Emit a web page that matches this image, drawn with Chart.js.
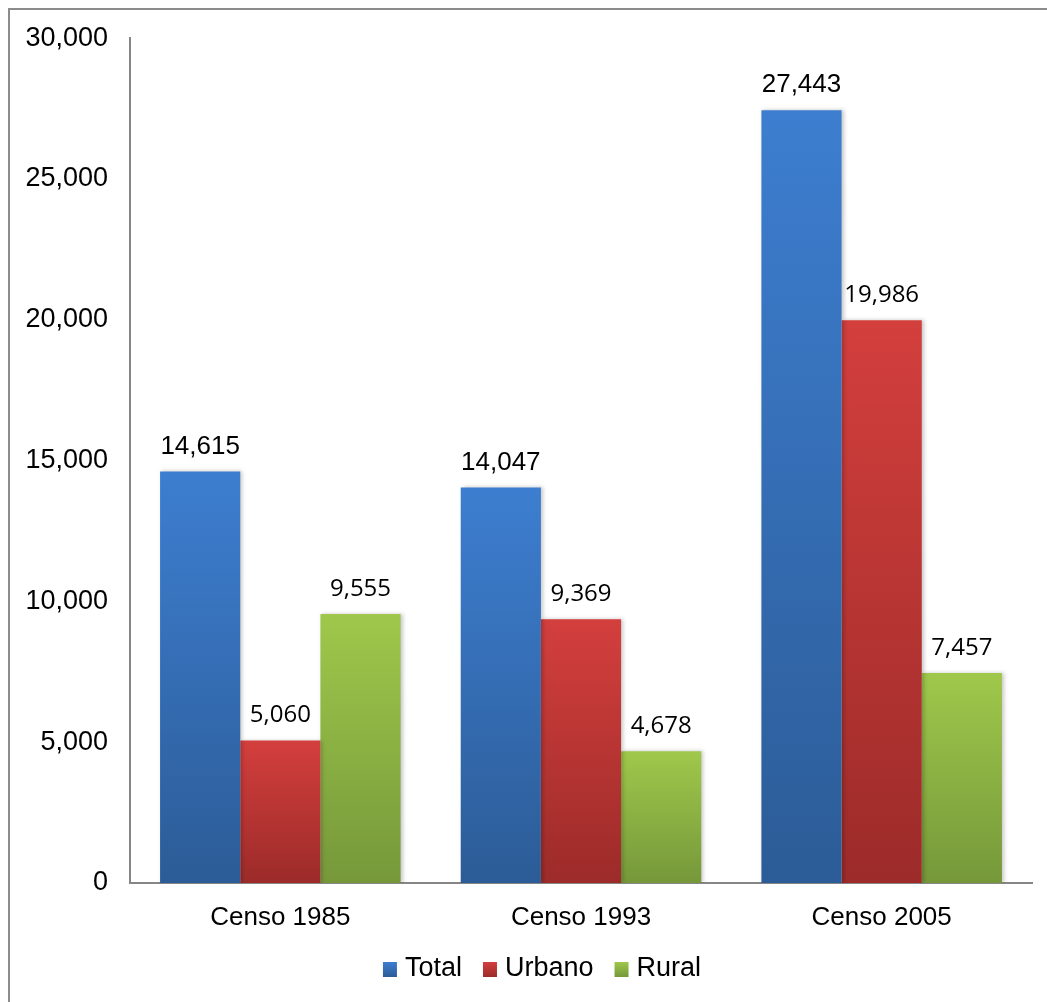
<!DOCTYPE html>
<html>
<head>
<meta charset="utf-8">
<script src="https://cdn.jsdelivr.net/npm/chart.js@4.4.1/dist/chart.umd.min.js"></script>
<style>
  html, body { margin: 0; padding: 0; background: #fff; }
  canvas { display: block; }
</style>
</head>
<body>
<canvas id="chart" width="1047" height="1002"></canvas>
<script>
// Población por censo
const categories = ['Censo 1985', 'Censo 1993', 'Censo 2005'];
const totalValues = [14615, 14047, 27443];
const urbanoValues = [5060, 9369, 19986];
const ruralValues = [9555, 4678, 7457];
const yTicks = [0, 5000, 10000, 15000, 20000, 25000, 30000];

const palette = {
  Total:  { top: '#3d7ed0', bottom: '#2c5c97', solid: '#3670bd' },
  Urbano: { top: '#d33f3d', bottom: '#9c2b29', solid: '#c03836' },
  Rural:  { top: '#9fc84b', bottom: '#76983a', solid: '#8cb243' }
};

function barGradient(name) {
  return (ctx) => {
    const chart = ctx.chart;
    const area = chart.chartArea;
    const c = palette[name];
    if (!area || ctx.type !== 'data' || !chart.scales.y) return c.solid;
    const yTop = chart.scales.y.getPixelForValue(ctx.raw);
    const g = chart.ctx.createLinearGradient(0, yTop, 0, area.bottom);
    g.addColorStop(0, c.top);
    g.addColorStop(1, c.bottom);
    return g;
  };
}

const fmt = (v) => v.toLocaleString('en-US');
const SANS = '"Liberation Sans", Arial, sans-serif';

// Outer frame, bar shadows, value labels and the legend row
const decorations = {
  id: 'decorations',
  beforeDraw(chart) {
    const ctx = chart.ctx;
    ctx.save();
    ctx.strokeStyle = '#8c8c8c';
    ctx.lineWidth = 2;
    ctx.beginPath();
    ctx.moveTo(9, 1002);
    ctx.lineTo(9, 9);
    ctx.lineTo(1047, 9);
    ctx.stroke();
    ctx.restore();
  },
  beforeDatasetsDraw(chart) {
    const ctx = chart.ctx;
    ctx.save();
    ctx.shadowColor = 'rgba(0,0,0,0.22)';
    ctx.shadowBlur = 4;
    ctx.shadowOffsetX = 2;
    ctx.shadowOffsetY = 0;
  },
  afterDatasetsDraw(chart) {
    const ctx = chart.ctx;
    ctx.restore();
    ctx.save();
    ctx.fillStyle = '#000';
    ctx.textAlign = 'center';
    ctx.textBaseline = 'middle';
    chart.data.datasets.forEach((ds, i) => {
      const meta = chart.getDatasetMeta(i);
      ctx.font = i === 0 ? '26px ' + SANS
                         : '24px "Open Sans", "Noto Sans", sans-serif';
      meta.data.forEach((bar, j) => {
        ctx.fillText(fmt(ds.data[j]), bar.x, bar.y - 25);
      });
    });
    ctx.restore();
  },
  afterDraw(chart) {
    const ctx = chart.ctx;
    const box = 14, gap = 8, spacing = 21, centerX = 542, centerY = 969;
    ctx.save();
    ctx.font = '27px ' + SANS;
    const items = chart.data.datasets.map(ds => ({ label: ds.label, w: ctx.measureText(ds.label).width }));
    const total = items.reduce((s, it) => s + box + gap + it.w, 0) + spacing * (items.length - 1);
    let x = centerX - total / 2;
    ctx.textBaseline = 'middle';
    ctx.textAlign = 'left';
    items.forEach(it => {
      const c = palette[it.label];
      const g = ctx.createLinearGradient(0, centerY - 7, 0, centerY + 8);
      g.addColorStop(0, c.top);
      g.addColorStop(1, c.bottom);
      ctx.fillStyle = g;
      ctx.fillRect(x, centerY - 7, box, 15);
      ctx.fillStyle = '#000';
      ctx.fillText(it.label, x + box + gap, centerY);
      x += box + gap + it.w + spacing;
    });
    ctx.restore();
  }
};

new Chart(document.getElementById('chart'), {
  type: 'bar',
  data: {
    labels: categories,
    datasets: [
      { label: 'Total', data: totalValues, backgroundColor: barGradient('Total') },
      { label: 'Urbano', data: urbanoValues, backgroundColor: barGradient('Urbano') },
      { label: 'Rural', data: ruralValues, backgroundColor: barGradient('Rural') }
    ]
  },
  options: {
    responsive: false,
    animation: false,
    devicePixelRatio: 1,
    layout: { padding: { top: 38, right: 15, left: 0, bottom: 59 } },
    datasets: { bar: { categoryPercentage: 0.8, barPercentage: 1.0, borderWidth: 0 } },
    scales: {
      x: {
        grid: { display: false, drawTicks: false },
        border: { display: true, color: '#868686', width: 2 },
        ticks: {
          color: '#000',
          font: { family: SANS, size: 26 },
          padding: 19
        },
        afterFit(scale) { scale.height = 60; }
      },
      y: {
        min: 0,
        max: 30000,
        afterBuildTicks(scale) { scale.ticks = yTicks.map(v => ({ value: v })); },
        grid: { display: false, drawTicks: false },
        border: { display: true, color: '#868686', width: 2 },
        ticks: {
          color: '#000',
          font: { family: SANS, size: 27 },
          padding: 22,
          callback: (v) => fmt(v)
        },
        afterFit(scale) { scale.width = 130; }
      }
    },
    plugins: {
      tooltip: { enabled: false },
      legend: { display: false }
    }
  },
  plugins: [decorations]
});
</script>
</body>
</html>
